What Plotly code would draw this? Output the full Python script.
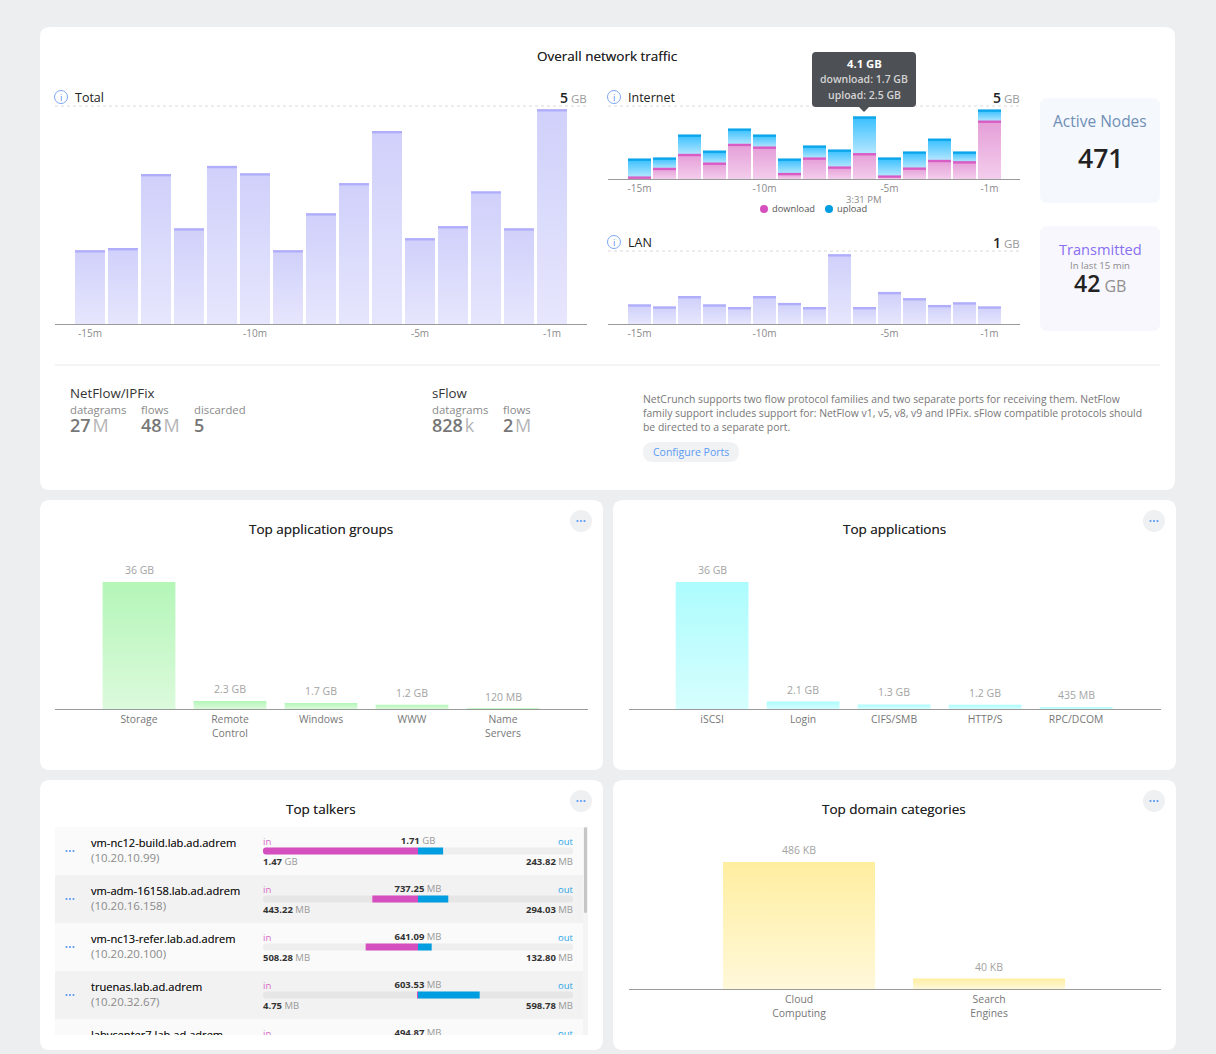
import plotly.graph_objects as go

W, H = 1216, 1054
FONT = "Open Sans"

# ---------- data ----------
minutes = [-15, -14, -13, -12, -11, -10, -9, -8, -7, -6, -5, -4, -3, -2, -1]
tick_minutes = [-15, -10, -5, -1]
tick_minute_labels = ["-15m", "-10m", "-5m", "-1m"]
total_gb = [1.69, 1.74, 3.46, 2.20, 3.65, 3.48, 1.69, 2.55, 3.25, 4.46, 1.97, 2.25, 3.06, 2.20, 4.97]
download_gb = [0.09, 0.67, 1.60, 1.02, 2.27, 2.09, 0.33, 1.36, 0.76, 1.65, 0.16, 0.69, 1.20, 1.11, 3.82]
upload_gb = [1.20, 0.69, 1.29, 0.80, 1.02, 0.80, 0.96, 0.80, 1.13, 2.45, 1.20, 1.07, 1.42, 0.65, 0.74]
lan_gb = [0.27, 0.24, 0.39, 0.27, 0.23, 0.39, 0.29, 0.23, 1.00, 0.23, 0.45, 0.36, 0.26, 0.30, 0.24]

group_names = ["Storage", "Remote<br>Control", "Windows", "WWW", "Name<br>Servers"]
group_gb = [36, 2.3, 1.7, 1.2, 0.12]
group_labels = ["36 GB", "2.3 GB", "1.7 GB", "1.2 GB", "120 MB"]

app_names = ["iSCSI", "Login", "CIFS/SMB", "HTTP/S", "RPC/DCOM"]
app_gb = [36, 2.1, 1.3, 1.2, 0.435]
app_labels = ["36 GB", "2.1 GB", "1.3 GB", "1.2 GB", "435 MB"]

domain_names = ["Cloud<br>Computing", "Search<br>Engines"]
domain_kb = [486, 40]
domain_labels = ["486 KB", "40 KB"]

talker_names = ["vm-nc12-build.lab.ad.adrem", "vm-adm-16158.lab.ad.adrem", "vm-nc13-refer.lab.ad.adrem",
                "truenas.lab.ad.adrem", "labvcenter7.lab.ad.adrem"]
talker_ips = ["(10.20.10.99)", "(10.20.16.158)", "(10.20.20.100)", "(10.20.32.67)", ""]
talker_in_mb = [1505, 443.22, 508.28, 4.75]
talker_out_mb = [243.82, 294.03, 132.80, 598.78]
talker_total = ["1.71 GB", "737.25 MB", "641.09 MB", "603.53 MB", "494.87 MB"]
talker_in_text = ["1.47 GB", "443.22 MB", "508.28 MB", "4.75 MB"]
talker_out_text = ["243.82 MB", "294.03 MB", "132.80 MB", "598.78 MB"]

# ---------- colours ----------
BG = "#edeef0"
DARK = "#222222"
GRAY = "#8a8a8a"
AXIS = "#9a9a9a"
PINK = "#d64fbf"
BLUE = "#009ee0"
THICK = "0 0 0.6px rgba(0,0,0,0.55)"
# solid fill -> (top, bottom) gradient used on the bars
GRADIENTS = {
    "#d2d2fc": ("#d0d0fb", "#e6e6fd"),
    "#e8a4da": ("#e59fd8", "#f3cdec"),
    "#6fd0fc": ("#3ac0ff", "#b8e8ff"),
    "#b5f7b5": ("#b4f6b8", "#dcfadc"),
    "#aefdfd": ("#adfcfd", "#d6fefe"),
    "#ffefa5": ("#ffeea0", "#fff8da"),
}

def X(p): return p / W
def Y(p): return 1 - p / H

shapes, anns = [], []

def rrect(x0, y0, x1, y1, r, fill, line=None):
    ax, ay, bx, by = X(x0), Y(y0), X(x1), Y(y1)
    rx, ry = r / W, r / H
    path = (f"M{ax+rx},{ay} L{bx-rx},{ay} Q{bx},{ay} {bx},{ay-ry} L{bx},{by+ry} Q{bx},{by} {bx-rx},{by} "
            f"L{ax+rx},{by} Q{ax},{by} {ax},{by+ry} L{ax},{ay-ry} Q{ax},{ay} {ax+rx},{ay} Z")
    shapes.append(dict(type="path", xref="paper", yref="paper", path=path, fillcolor=fill,
                       line=dict(width=0), layer="below"))

def circle(cx, cy, r, fill="rgba(0,0,0,0)", line=None, lw=1):
    shapes.append(dict(type="circle", xref="paper", yref="paper", x0=X(cx - r), x1=X(cx + r), y0=Y(cy + r), y1=Y(cy - r),
                       fillcolor=fill, line=dict(width=lw if line else 0, color=line or fill), layer="below"))

def hline(x0, x1, y, color, dash="solid", lw=1):
    shapes.append(dict(type="line", xref="paper", yref="paper", x0=X(x0), x1=X(x1), y0=Y(y), y1=Y(y),
                       line=dict(color=color, width=lw, dash=dash), layer="below"))

def text(x, y, s, size=12, color=DARK, anchor="left", weight=None, shadow=None):
    anns.append(dict(xref="paper", yref="paper", x=X(x), y=Y(y), text=s, showarrow=False, xanchor=anchor,
                     yanchor="middle", borderpad=0, borderwidth=0,
                     font=dict(family=FONT, size=size, color=color, weight=weight, shadow=shadow)))

def num(value, unit, size, usize, color=DARK, ucolor="#999999", gap=" "):
    return (f'<span style="font-weight:600;color:{color};font-size:{size}px">{value}</span>'
            f'<span style="color:{ucolor};font-size:{usize}px">{gap}{unit}</span>')

def dots_button(cx, cy):
    circle(cx, cy, 11, fill="#eff0f2")
    for dx in (-3.5, 0, 3.5):
        circle(cx + dx, cy, 1.1, fill="#5b9bf5")

def info(cx, cy):
    circle(cx, cy, 6.5, line="#7ea6f4", lw=1)
    text(cx, cy, "i", 9.5, "#5b8def", "center")

# ---------- cards ----------
rrect(40, 27, 1175, 490, 10, "#ffffff")
rrect(40, 500, 603, 770, 10, "#ffffff")
rrect(613, 500, 1176, 770, 10, "#ffffff")
rrect(40, 780, 603, 1050, 10, "#ffffff")
rrect(613, 780, 1176, 1050, 10, "#ffffff")

TITLE = dict(size=13.5, color=DARK, anchor="center", weight=500, shadow=THICK)
text(607.5, 56, "Overall network traffic", **TITLE)

# section headers
hline(55, 587, 106, "#dadada", "dot")
hline(608, 1020, 106, "#dadada", "dot")
hline(608, 1020, 251, "#dadada", "dot")
info(61, 97); text(75, 97, "Total", 12.5)
text(587, 97, num("5", "GB", 14, 11.5), 14, DARK, "right")
info(614, 97); text(628, 97, "Internet", 12.5)
text(1020, 97, num("5", "GB", 14, 11.5), 14, DARK, "right")
info(614, 242); text(628, 242, "LAN", 12.5)
text(1020, 242, num("1", "GB", 14, 11.5), 14, DARK, "right")

# side panels
rrect(1040, 98, 1160, 203, 8, "#f5f8fd")
text(1100, 121, "Active Nodes", 15.5, "#6f8fb5", "center")
text(1100, 158, "471", 26.5, DARK, "center", 600)
rrect(1040, 226, 1160, 331, 8, "#f8f7fe")
text(1100, 249.5, "Transmitted", 14.6, "#8a6ff2", "center")
text(1100, 265, "In last 15 min", 9.6, "#8a8a8a", "center")
text(1100, 283, num("42", "GB", 23, 16, ucolor="#8f8f8f"), 23, DARK, "center")

# divider and stats
hline(55, 1160, 365, "#e9e9e9")
text(70, 393.5, "NetFlow/IPFix", 13.3, "#333333")
text(432, 393.5, "sFlow", 13.3, "#333333")
for x, s in [(70, "datagrams"), (141, "flows"), (194, "discarded"), (432, "datagrams"), (503, "flows")]:
    text(x, 409, s, 11.3, GRAY)
for x, v, u in [(70, "27", "M"), (141, "48", "M"), (194, "5", ""), (432, "828", "k"), (503, "2", "M")]:
    text(x, 425, num(v, u, 18, 18, "#777777", "#b5b5b5", gap="\u200a"), 18, "#777777")

for y, s in [(399, "NetCrunch supports two flow protocol families and two separate ports for receiving them. NetFlow"),
             (413, "family support includes support for: NetFlow v1, v5, v8, v9 and IPFix. sFlow compatible protocols should"),
             (427, "be directed to a separate port.")]:
    text(643, y, s, 10.4, "#777777")
rrect(643, 442, 739, 462, 10, "#f1f2f4")
text(691, 452, "Configure Ports", 10.5, "#5b9bf5", "center")

# tooltip
rrect(812, 52, 916, 107, 4, "#4d5054")
shapes.append(dict(type="path", xref="paper", yref="paper", layer="below", fillcolor="#4d5054", line=dict(width=0),
                   path=f"M{X(859)},{Y(107)} L{X(869)},{Y(107)} L{X(864)},{Y(112)} Z"))

# legend under the Internet chart
text(864, 200, "3:31 PM", 9.5, GRAY, "center")
circle(764, 209, 4, fill=PINK); text(772, 209, "download", 9.3, "#555555")
circle(829, 209, 4, fill=BLUE); text(837, 209, "upload", 9.3, "#555555")

# panel titles
text(321, 529, "Top application groups", **TITLE)
text(894, 529, "Top applications", **TITLE)
text(321, 809, "Top talkers", **TITLE)
text(894, 809, "Top domain categories", **TITLE)
for cx, cy in [(581, 521), (1154, 521), (581, 801), (1154, 801)]:
    dots_button(cx, cy)

# talkers list chrome
for i in range(5):
    y0 = 827 + 48 * i
    y1 = min(y0 + 48, 1035)
    shapes.append(dict(type="rect", xref="paper", yref="paper", x0=X(55), x1=X(583), y0=Y(y1), y1=Y(y0),
                       fillcolor="#fafafa" if i % 2 == 0 else "#f2f2f2", line=dict(width=0), layer="below"))
    if i < 4:
        for dx in (-3.5, 0, 3.5):
            circle(70 + dx, y0 + 24, 1.1, fill="#5b9bf5")
shapes.append(dict(type="rect", xref="paper", yref="paper", x0=X(583), x1=X(588), y0=Y(1035), y1=Y(827),
                   fillcolor="#f4f4f4", line=dict(width=0), layer="below"))
rrect(584, 827, 587, 913, 1.5, "#c6c6c6")

fig = go.Figure()
layout_axes = {}
_n = [0]

def axes(x0, x1, y0, y1, xrange, yrange, xline=True, **xkw):
    _n[0] += 1
    n = _n[0]
    kx = dict(domain=[X(x0), X(x1)], range=xrange, anchor=f"y{n}", showgrid=False, zeroline=False,
              showline=xline, linecolor=AXIS, linewidth=1, fixedrange=True)
    kx.update(xkw)
    ky = dict(domain=[Y(y1), Y(y0)], range=yrange, anchor=f"x{n}", visible=False, showgrid=False,
              zeroline=False, fixedrange=True)
    layout_axes[f"xaxis{n}"] = kx
    layout_axes[f"yaxis{n}"] = ky
    return f"x{n}", f"y{n}"

def bars(xa, ya, x, y, fill, width, base=None):
    fig.add_trace(go.Bar(x=x, y=y, base=base, marker=dict(color=fill, line=dict(width=0)), width=width,
                         xaxis=xa, yaxis=ya, showlegend=False, hoverinfo="skip"))

def caps(xa, ya, x, y, color, px):
    # the line-ew symbol spans 1.4 times its size
    fig.add_trace(go.Scatter(x=x, y=y, mode="markers", xaxis=xa, yaxis=ya, cliponaxis=False, showlegend=False,
                             hoverinfo="skip",
                             marker=dict(symbol="line-ew", size=px / 1.4, line=dict(color=color, width=2.4))))

tick_style = dict(tickmode="array", tickvals=tick_minutes, ticktext=tick_minute_labels, ticks="",
                  tickfont=dict(family=FONT, size=10, color=GRAY))

# Total
xa, ya = axes(55, 587, 106, 324, [-16.06, 0.06], [0, 218 / 43], **tick_style)
bars(xa, ya, minutes, total_gb, "#d2d2fc", 30 / 33)
caps(xa, ya, minutes, total_gb, "#b0aefb", 30)

# Internet
xa, ya = axes(608, 1020, 106, 179, [-16.26, 0.22], [0, 73 / 15], **tick_style)
bars(xa, ya, minutes, download_gb, "#e8a4da", 23 / 25)
bars(xa, ya, minutes, upload_gb, "#6fd0fc", 23 / 25, base=download_gb)
caps(xa, ya, minutes, download_gb, "#d95cc4", 23)
caps(xa, ya, minutes, [d + u for d, u in zip(download_gb, upload_gb)], "#0aa5ea", 23)

# LAN
xa, ya = axes(608, 1020, 251, 324, [-16.26, 0.22], [0, 1.063], **tick_style)
bars(xa, ya, minutes, lan_gb, "#d2d2fc", 23 / 25)
caps(xa, ya, minutes, lan_gb, "#b0aefb", 23)

def category_panel(x0, x1, y0, y1, xr, ymax, names, vals, labels, fill):
    xa, ya = axes(x0, x1, y0, y1, xr, [0, ymax], type="category", categoryorder="array", categoryarray=names,
                  ticks="outside", ticklen=1, tickcolor="rgba(0,0,0,0)",
                  tickfont=dict(family=FONT, size=10.4, color="#777777"))
    bars(xa, ya, names, vals, fill, 0.8)
    for nm, v, lb in zip(names, vals, labels):
        anns.append(dict(xref=xa, yref=ya, x=nm, y=v, text=lb, showarrow=False, yanchor="bottom", yshift=4,
                         font=dict(family=FONT, size=10.5, color="#a3a3a3"), borderpad=0))

category_panel(55, 588, 560, 709, [-0.923, 4.934], 149 / 127 * 36, group_names, group_gb, group_labels, "#b5f7b5")
category_panel(629, 1161, 560, 709, [-0.913, 4.933], 149 / 127 * 36, app_names, app_gb, app_labels, "#aefdfd")
category_panel(629, 1161, 840, 989, [-0.895, 1.905], 149 / 127 * 486, domain_names, domain_kb, domain_labels, "#ffefa5")

# Talkers: value bars on a symmetric axis, rows on a reversed axis
ROW = 48
MAX_MB = 1505
row_range = [(1035 - 851) / ROW, (827 - 851) / ROW]
rows4 = list(range(4))
track_colors = ["#eeeeee" if r % 2 == 0 else "#e6e6e6" for r in rows4]
xa, ya = axes(263, 573, 827, 1035, [-MAX_MB, MAX_MB], row_range, xline=False, visible=False)
for sign, vals, cols in [(-1, [MAX_MB] * 4, track_colors), (1, [MAX_MB] * 4, track_colors),
                         (-1, talker_in_mb, [PINK] * 4), (1, talker_out_mb, [BLUE] * 4)]:
    fig.add_trace(go.Bar(x=[sign * v for v in vals], y=rows4, orientation="h", width=7 / ROW,
                         marker=dict(color=cols, line=dict(width=0), cornerradius=3), xaxis=xa, yaxis=ya,
                         showlegend=False, hoverinfo="skip"))

def rowtext(xa, ya, x, rows, off, labels, size, color, pos, shadow=None):
    fig.add_trace(go.Scatter(x=x, y=[r + off / ROW for r in rows], text=labels, mode="text", textposition=pos,
                             textfont=dict(family=FONT, size=size, color=color, shadow=shadow), xaxis=xa, yaxis=ya,
                             showlegend=False, hoverinfo="skip"))

def split(s, color="#999999"):
    v, u = s.split(" ")
    return f'<b>{v}</b> <span style="color:{color}">{u}</span>'

rows5 = list(range(5))
rowtext(xa, ya, [-MAX_MB] * 5, rows5, -8, ["in"] * 5, 9.5, "#d86cc6", "middle right")
rowtext(xa, ya, [MAX_MB] * 5, rows5, -8, ["out"] * 5, 9.5, "#2aa6e6", "middle left")
rowtext(xa, ya, [0] * 5, rows5, -9, [split(s) for s in talker_total], 9.5, "#333333", "middle center")
rowtext(xa, ya, [-MAX_MB] * 4, rows4, 12, [split(s) for s in talker_in_text], 9.5, "#333333", "middle right")
rowtext(xa, ya, [MAX_MB] * 4, rows4, 12, [split(s) for s in talker_out_text], 9.5, "#333333", "middle left")

xb, yb = axes(55, 583, 827, 1035, [55, 583], row_range, xline=False, visible=False)
rowtext(xb, yb, [91] * 5, rows5, -7, talker_names, 11.1, "#151515", "middle right", shadow=THICK)
rowtext(xb, yb, [91] * 5, rows5, 8, talker_ips, 11.5, "#8a8a8a", "middle right")

# tooltip text
text(864, 63, "4.1 GB", 11.3, "#ffffff", "center", 700)
text(864, 79, "download: 1.7 GB", 10.5, "#d4d4d4", "center", 600)
text(864, 95, "upload: 2.5 GB", 10.5, "#d4d4d4", "center", 600)

fig.update_layout(width=W, height=H, autosize=False, margin=dict(l=0, r=0, t=0, b=0), paper_bgcolor=BG,
                  plot_bgcolor="rgba(0,0,0,0)", barmode="overlay", showlegend=False, shapes=shapes, annotations=anns,
                  font=dict(family=FONT), **layout_axes)

def hex_rgb(h):
    return f"rgb({int(h[1:3],16)}, {int(h[3:5],16)}, {int(h[5:7],16)})"

grad_js = "{" + ",".join(f'"{hex_rgb(k)}":["{a}","{b}"]' for k, (a, b) in GRADIENTS.items()) + "}"
post = """
document.documentElement.style.margin='0';document.body.style.margin='0';document.body.style.overflow='hidden';
(function(){
var gd=document.getElementById('{plot_id}');var map=%s;
var svg=gd.querySelector('svg.main-svg');var NS='http://www.w3.org/2000/svg';
var defs=svg.querySelector('defs')||svg.insertBefore(document.createElementNS(NS,'defs'),svg.firstChild);
var i=0;
Object.keys(map).forEach(function(k){
  var id='bargrad'+(i++);var g=document.createElementNS(NS,'linearGradient');
  g.setAttribute('id',id);g.setAttribute('x1','0');g.setAttribute('y1','0');g.setAttribute('x2','0');g.setAttribute('y2','1');
  [[0,map[k][0]],[1,map[k][1]]].forEach(function(s){var st=document.createElementNS(NS,'stop');
    st.setAttribute('offset',s[0]);st.setAttribute('stop-color',s[1]);g.appendChild(st);});
  defs.appendChild(g);map[k]=id;});
gd.querySelectorAll('.barlayer .point path').forEach(function(p){
  var id=map[p.style.fill];if(id){p.style.fill='url(#'+id+')';}});
})();
""" % grad_js

fig.write_html("out.html", config={"displayModeBar": False, "responsive": False}, post_script=post)
